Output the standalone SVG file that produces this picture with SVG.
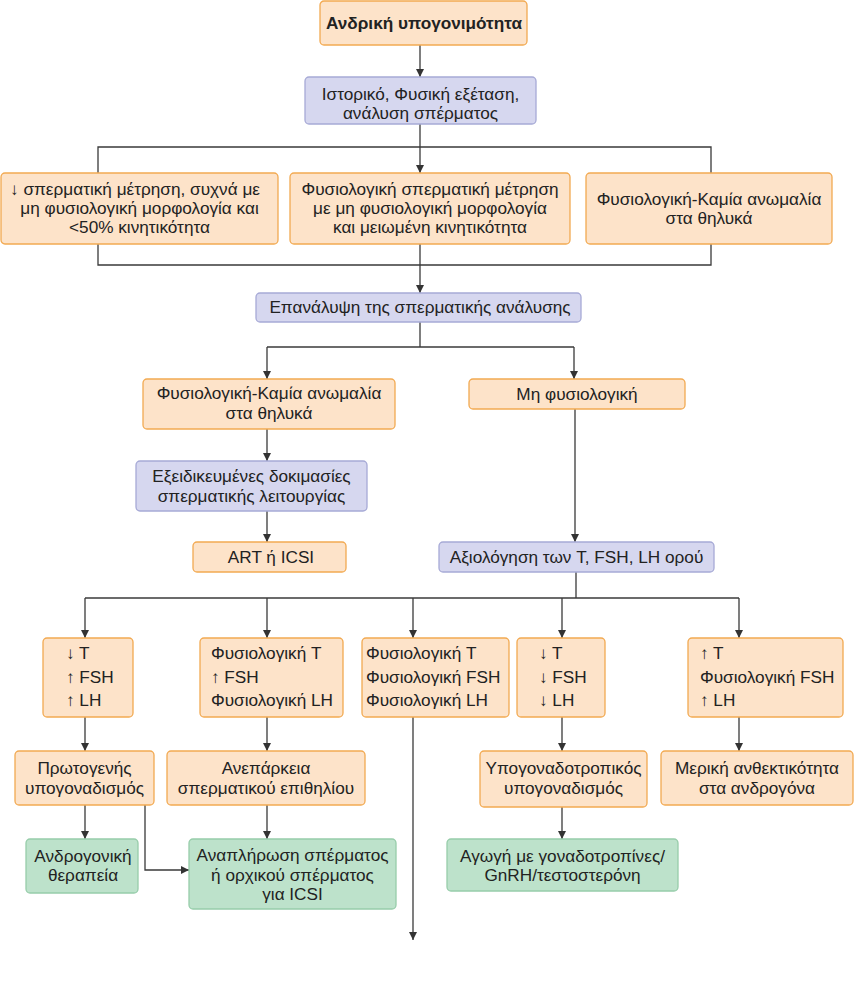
<svg xmlns="http://www.w3.org/2000/svg" width="854" height="995" viewBox="0 0 854 995">
<defs>
<marker id="ah" markerUnits="userSpaceOnUse" markerWidth="10" markerHeight="10" viewBox="0 0 10 10" refX="9" refY="5" orient="auto">
<path d="M1,1 L9,5 L1,9 Z" fill="#333"/>
</marker>
<style>
.o{fill:#fde3c9;stroke:#f2aa52;stroke-width:1.3}
.b{fill:#d6d7ef;stroke:#a7aad6;stroke-width:1.3}
.g{fill:#bde2cb;stroke:#97cdaa;stroke-width:1.3}
text{font-family:"Liberation Sans",Arial,sans-serif;font-size:17.2px;fill:#222}
.c{text-anchor:middle}
.bold{font-weight:bold}
.ln{fill:none;stroke:#3a3a3a;stroke-width:1.3}
.ar{fill:none;stroke:#3a3a3a;stroke-width:1.3;marker-end:url(#ah)}
</style>
</defs>
<rect width="854" height="995" fill="#ffffff"/>
<g id="connectors">
<path class="ar" d="M420,45 V77"/>
<path class="ar" d="M420,124 V173"/>
<path class="ln" d="M98,173 V147 H711 V173"/>
<path class="ln" d="M98,244 V265 H711 V244"/>
<path class="ar" d="M420,244 V293"/>
<path class="ln" d="M420,322 V347"/>
<path class="ln" d="M267,347 H574"/>
<path class="ar" d="M267,347 V379"/>
<path class="ar" d="M574,347 V379"/>
<path class="ar" d="M267,429 V461"/>
<path class="ar" d="M267,511 V542"/>
<path class="ar" d="M575,409 V542"/>
<path class="ln" d="M576,572 V598"/>
<path class="ln" d="M85,598 H739"/>
<path class="ar" d="M85,598 V638"/>
<path class="ar" d="M267,598 V638"/>
<path class="ar" d="M413,598 V638"/>
<path class="ar" d="M562,598 V638"/>
<path class="ar" d="M739,598 V638"/>
<path class="ar" d="M85,717 V751"/>
<path class="ar" d="M267,717 V751"/>
<path class="ar" d="M413,717 V940"/>
<path class="ar" d="M562,717 V751"/>
<path class="ar" d="M739,717 V751"/>
<path class="ar" d="M85,805 V839"/>
<path class="ar" d="M267,805 V839"/>
<path class="ar" d="M562,807 V839"/>
<path class="ar" d="M145,805 V870 H189"/>
</g>
<g id="n1"><rect class="o" x="320" y="1" width="207" height="44" rx="4"/><text class="c bold" x="424" y="29">Ανδρική υπογονιμότητα</text></g>
<g id="n2"><rect class="b" x="305" y="77" width="231" height="47" rx="4"/><text class="c" x="420.5" y="100">Ιστορικό, Φυσική εξέταση,</text><text class="c" x="420.5" y="119">ανάλυση σπέρματος</text></g>
<g id="n3"><rect class="o" x="1" y="173" width="277" height="71" rx="4"/><text class="c" x="135" y="195">↓ σπερματική μέτρηση, συχνά με</text><text class="c" x="139.5" y="214">μη φυσιολογική μορφολογία και</text><text class="c" x="139.5" y="233">&lt;50% κινητικότητα</text></g>
<g id="n4"><rect class="o" x="290" y="173" width="280" height="71" rx="4"/><text class="c" x="430" y="195">Φυσιολογική σπερματική μέτρηση</text><text class="c" x="430" y="214">με μη φυσιολογική μορφολογία</text><text class="c" x="430" y="233">και μειωμένη κινητικότητα</text></g>
<g id="n5"><rect class="o" x="586" y="173" width="246" height="71" rx="4"/><text class="c" x="709" y="205">Φυσιολογική-Καμία ανωμαλία</text><text class="c" x="709" y="224">στα θηλυκά</text></g>
<g id="n6"><rect class="b" x="256" y="293" width="325" height="29" rx="4"/><text class="c" x="420" y="313">Επανάλυψη της σπερματικής ανάλυσης</text></g>
<g id="n7"><rect class="o" x="143" y="379" width="252" height="50" rx="4"/><text class="c" x="269" y="399">Φυσιολογική-Καμία ανωμαλία</text><text class="c" x="269" y="419">στα θηλυκά</text></g>
<g id="n8"><rect class="o" x="469" y="379" width="216" height="30" rx="4"/><text class="c" x="577" y="400">Μη φυσιολογική</text></g>
<g id="n9"><rect class="b" x="136" y="461" width="231" height="50" rx="4"/><text class="c" x="251.5" y="482">Εξειδικευμένες δοκιμασίες</text><text class="c" x="251.5" y="502">σπερματικής λειτουργίας</text></g>
<g id="n10"><rect class="o" x="193" y="542" width="153" height="30" rx="4"/><text class="c" x="271" y="563">ART ή ICSI</text></g>
<g id="n11"><rect class="b" x="439" y="542" width="275" height="30" rx="4"/><text class="c" x="576.5" y="563">Αξιολόγηση των T, FSH, LH ορού</text></g>
<g id="n12"><rect class="o" x="43" y="638" width="90" height="79" rx="4"/><text x="66" y="659">↓ T</text><text x="66" y="683">↑ FSH</text><text x="66" y="706">↑ LH</text></g>
<g id="n13"><rect class="o" x="200" y="638" width="143" height="79" rx="4"/><text x="211" y="659">Φυσιολογική T</text><text x="211" y="683">↑ FSH</text><text x="211" y="706">Φυσιολογική LH</text></g>
<g id="n14"><rect class="o" x="362" y="638" width="147" height="79" rx="4"/><text x="366" y="659">Φυσιολογική T</text><text x="366" y="683">Φυσιολογική FSH</text><text x="366" y="706">Φυσιολογική LH</text></g>
<g id="n15"><rect class="o" x="517" y="638" width="88" height="79" rx="4"/><text x="539" y="659">↓ T</text><text x="539" y="683">↓ FSH</text><text x="539" y="706">↓ LH</text></g>
<g id="n16"><rect class="o" x="688" y="638" width="155" height="79" rx="4"/><text x="700" y="659">↑ T</text><text x="700" y="683">Φυσιολογική FSH</text><text x="700" y="706">↑ LH</text></g>
<g id="n17"><rect class="o" x="15" y="751" width="139" height="54" rx="4"/><text class="c" x="84.5" y="774">Πρωτογενής</text><text class="c" x="84.5" y="794">υπογοναδισμός</text></g>
<g id="n18"><rect class="o" x="167" y="751" width="198" height="54" rx="4"/><text class="c" x="266" y="774">Ανεπάρκεια</text><text class="c" x="266" y="794">σπερματικού επιθηλίου</text></g>
<g id="n19"><rect class="o" x="480" y="751" width="167" height="56" rx="4"/><text class="c" x="563.5" y="774">Υπογοναδοτροπικός</text><text class="c" x="563.5" y="794">υπογοναδισμός</text></g>
<g id="n20"><rect class="o" x="661" y="751" width="192" height="54" rx="4"/><text class="c" x="757" y="774">Μερική ανθεκτικότητα</text><text class="c" x="757" y="794">στα ανδρογόνα</text></g>
<g id="n21"><rect class="g" x="26" y="839" width="112" height="54" rx="4"/><text class="c" x="83" y="862">Ανδρογονική</text><text class="c" x="83" y="881">θεραπεία</text></g>
<g id="n22"><rect class="g" x="189" y="839" width="207" height="70" rx="4"/><text class="c" x="292.5" y="861">Αναπλήρωση σπέρματος</text><text class="c" x="292.5" y="881">ή ορχικού σπέρματος</text><text class="c" x="292.5" y="900">για ICSI</text></g>
<g id="n23"><rect class="g" x="447" y="839" width="231" height="52" rx="4"/><text class="c" x="562.5" y="862">Αγωγή με γοναδοτροπίνες/</text><text class="c" x="562.5" y="881">GnRH/τεστοστερόνη</text></g>
</svg>
